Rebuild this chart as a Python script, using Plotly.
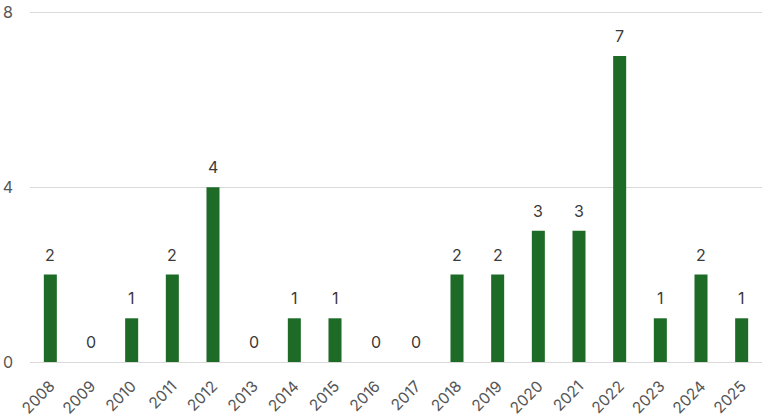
import plotly.graph_objects as go

years = [str(y) for y in range(2008, 2026)]
counts = [2, 0, 1, 2, 4, 0, 1, 1, 0, 0, 2, 2, 3, 3, 7, 1, 2, 1]
y_ticks = [0, 4, 8]

bar_color = "#1d6b27"
text_color = "#3a3a3a"
tick_color = "#555555"
font_family = "Inter, Roboto, sans-serif"

fig = go.Figure()
fig.add_trace(go.Bar(x=years, y=counts, marker=dict(color=bar_color, line=dict(width=0)),
                     hoverinfo="x+y"))

for i, c in enumerate(counts):
    fig.add_annotation(x=i, y=c, text=str(c), showarrow=False, yanchor="bottom",
                       yshift=8, font=dict(size=16, color=text_color, family=font_family))

fig.update_layout(
    width=767, height=418,
    margin=dict(l=30, r=5, t=11, b=56),
    paper_bgcolor="white", plot_bgcolor="white",
    bargap=0.68,
    showlegend=False,
    font=dict(family=font_family, size=15, color=tick_color),
)
fig.update_xaxes(type="category", range=[-0.5, len(years) - 0.5], autorange=False,
                 automargin=False,
                 tickangle=-45, showgrid=False, showline=True,
                 linecolor="#d9d9d9", linewidth=1, ticks="",
                 ticklabelstandoff=8,
                 tickfont=dict(size=15.5, color=tick_color, family=font_family))
fig.update_yaxes(range=[0, 8.03], tickvals=y_ticks, showgrid=True,
                 gridcolor="#d9d9d9", gridwidth=1, zeroline=False, showline=False, ticks="",
                 automargin=False,
                 ticklabelstandoff=16,
                 tickfont=dict(size=16, color=tick_color, family=font_family))

fig.write_html("out.html")
